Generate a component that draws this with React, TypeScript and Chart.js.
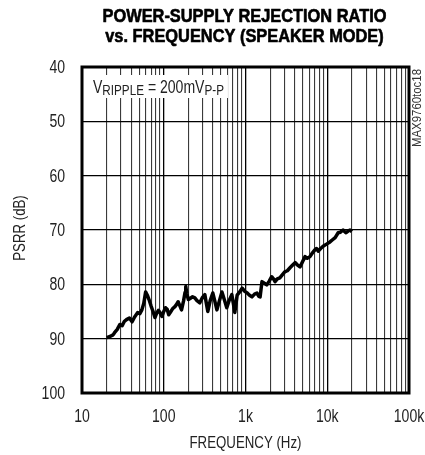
import React, { useEffect, useRef } from 'react';
import { Chart, registerables } from 'chart.js';

Chart.register(...registerables);

const frequencyHz = [
  20, 22, 24, 25, 27, 29, 31, 33, 35, 38, 41, 44, 48, 51, 54, 57, 60, 63, 66, 70,
  74, 78, 82, 86, 90, 95, 100, 105, 110, 115, 120, 128, 137, 145, 150, 158, 165, 175, 182, 186,
  192, 200, 210, 225, 240, 255, 276, 295, 318, 332, 346, 370, 398, 420, 447, 480, 515, 550, 590, 630,
  680, 710, 740, 790, 850, 910, 980, 1050, 1120, 1200, 1290, 1380, 1450, 1510, 1590, 1700, 1820, 1950, 2090, 2200,
  2300, 2450, 2630, 2800, 3020, 3250, 3480, 3750, 4040, 4300, 4640, 5000, 5350, 5700, 6150, 6600, 7090, 7400, 7750, 8300,
  8900, 9800, 10800, 11600, 12500, 13600, 14500, 15600, 16300, 17000, 18000, 19000, 20000,
];

const psrrDb = [
  89.8, 89.6, 89.3, 88.9, 88.3, 87.4, 87.6, 86.8, 86.5, 86.2, 86.9, 86.0, 85.2, 85.4, 84.7, 83.5, 81.4, 82.0, 82.8, 84.0,
  85.0, 86.1, 85.3, 84.8, 85.2, 85.9, 85.0, 84.3, 84.6, 85.6, 85.2, 84.5, 84.1, 83.6, 83.2, 84.0, 84.7, 83.0, 81.5, 80.4,
  81.8, 82.8, 82.6, 82.3, 82.5, 83.0, 83.4, 82.5, 81.9, 83.5, 85.0, 83.0, 81.6, 83.0, 84.7, 83.0, 81.4, 82.8, 84.3, 83.0,
  81.9, 83.5, 85.2, 82.0, 81.4, 80.7, 81.3, 81.6, 82.0, 82.3, 81.8, 81.6, 82.2, 82.3, 79.5, 79.8, 80.1, 79.4, 78.6, 79.0,
  79.5, 79.0, 78.8, 78.3, 77.7, 77.5, 77.0, 76.5, 76.0, 76.4, 76.8, 75.8, 74.9, 75.2, 74.9, 74.2, 73.6, 73.4, 73.9, 73.4,
  73.0, 72.6, 72.2, 71.8, 71.4, 70.5, 70.4, 70.0, 70.3, 70.5, 70.2, 70.0, 70.3,
];

const xGridTicks = [
  10, 20, 30, 40, 50, 60, 70, 80, 90,
  100, 200, 300, 400, 500, 600, 700, 800, 900,
  1000, 2000, 3000, 4000, 5000, 6000, 7000, 8000, 9000,
  10000, 20000, 30000, 40000, 50000, 60000, 70000, 80000, 90000,
  100000,
];
const xTickValues = [10, 100, 1000, 10000, 100000];
const xTickLabels = ['10', '100', '1k', '10k', '100k'];
const yTickValues = [40, 50, 60, 70, 80, 90, 100];
const yTickLabels = ['40', '50', '60', '70', '80', '90', '100'];

const titleLines = ['POWER-SUPPLY REJECTION RATIO', 'vs. FREQUENCY (SPEAKER MODE)'];
const xAxisTitle = 'FREQUENCY (Hz)';
const yAxisTitle = 'PSRR (dB)';
const sideNote = 'MAX9760toc18';
const annotationParts = [
  { text: 'V', sub: false },
  { text: 'RIPPLE', sub: true },
  { text: ' = 200mV', sub: false },
  { text: 'P-P', sub: true },
];

const SANS = '"Liberation Sans", Arial, "DejaVu Sans", sans-serif';
const NARROW_X = 0.78;
const TEXT = '#222';

function narrowText(
  ctx: CanvasRenderingContext2D,
  text: string,
  x: number,
  y: number,
  font: string,
  align: CanvasTextAlign,
  baseline: CanvasTextBaseline,
  sx: number,
  rotate = 0,
  strokeWidth = 0
) {
  ctx.save();
  ctx.font = font;
  ctx.textAlign = align;
  ctx.textBaseline = baseline;
  ctx.translate(x, y);
  if (rotate) ctx.rotate(rotate);
  ctx.scale(sx, 1);
  ctx.fillText(text, 0, 0);
  if (strokeWidth > 0) {
    ctx.strokeStyle = ctx.fillStyle as string;
    ctx.lineWidth = strokeWidth;
    ctx.lineJoin = 'round';
    ctx.strokeText(text, 0, 0);
  }
  ctx.restore();
}

const overlayPlugin = {
  id: 'overlay',
  afterDraw(chart: any) {
    const { ctx, chartArea } = chart;
    const { left, right, top, bottom } = chartArea;
    const xs = chart.scales.x;
    const ys = chart.scales.y;
    ctx.save();
    // frame
    ctx.strokeStyle = '#000';
    ctx.lineWidth = 3;
    ctx.strokeRect(left, top, right - left, bottom - top);

    const cx = (left + right) / 2;

    // title
    ctx.fillStyle = '#000';
    narrowText(ctx, titleLines[0], cx - 1, 22, `bold 18px ${SANS}`, 'center', 'alphabetic', 0.91, 0, 0.6);
    narrowText(ctx, titleLines[1], cx - 1, 42, `bold 18px ${SANS}`, 'center', 'alphabetic', 0.91, 0, 0.6);

    ctx.fillStyle = TEXT;
    // x tick labels
    xTickValues.forEach((v, i) => {
      narrowText(ctx, xTickLabels[i], xs.getPixelForValue(v), 417, `18px ${SANS}`, 'center', 'middle', NARROW_X);
    });
    // y tick labels
    yTickValues.forEach((v, i) => {
      narrowText(ctx, yTickLabels[i], 65, ys.getPixelForValue(v) + 1, `18px ${SANS}`, 'right', 'middle', NARROW_X);
    });

    // axis titles
    narrowText(ctx, xAxisTitle, cx, 443, `17px ${SANS}`, 'center', 'middle', NARROW_X);
    narrowText(ctx, yAxisTitle, 20, (top + bottom) / 2 - 2, `17px ${SANS}`, 'center', 'middle', NARROW_X, -Math.PI / 2);

    // side note
    ctx.fillStyle = '#333';
    narrowText(ctx, sideNote, 418, 108, `12px ${SANS}`, 'center', 'middle', 0.95, -Math.PI / 2);

    // annotation
    const x0 = 93;
    const base = 93;
    let w = 0;
    for (const p of annotationParts) {
      ctx.font = p.sub ? `15px ${SANS}` : `18px ${SANS}`;
      w += ctx.measureText(p.text).width * NARROW_X;
    }
    ctx.fillStyle = '#fff';
    ctx.fillRect(x0 - 4, 75, w + 8, 23);
    ctx.fillStyle = TEXT;
    let x = x0;
    for (const p of annotationParts) {
      const font = p.sub ? `15px ${SANS}` : `18px ${SANS}`;
      narrowText(ctx, p.text, x, p.sub ? base + 2 : base, font, 'left', 'alphabetic', NARROW_X);
      ctx.font = font;
      x += ctx.measureText(p.text).width * NARROW_X;
    }
    ctx.restore();
  },
};

export default function App() {
  const canvasRef = useRef<HTMLCanvasElement | null>(null);

  useEffect(() => {
    document.body.style.margin = '0';
    const canvas = canvasRef.current;
    if (!canvas) return;
    const chart = new Chart(canvas, {
      type: 'line',
      data: {
        datasets: [
          {
            data: frequencyHz.map((f, i) => ({ x: f, y: psrrDb[i] })),
            borderColor: '#000',
            borderWidth: 3.5,
            borderJoinStyle: 'round',
            pointRadius: 0,
            tension: 0,
            fill: false,
          },
        ],
      },
      options: {
        animation: false,
        responsive: false,
        maintainAspectRatio: false,
        layout: { padding: { left: 0, right: 16, top: 67, bottom: 0 } },
        plugins: {
          legend: { display: false },
          title: { display: false },
          tooltip: { enabled: false },
        },
        scales: {
          x: {
            type: 'logarithmic',
            min: 10,
            max: 100000,
            afterBuildTicks: (scale: any) => {
              scale.ticks = xGridTicks.map((v) => ({ value: v }));
            },
            afterFit: (scale: any) => {
              scale.height = 62;
            },
            ticks: { display: false, autoSkip: false },
            grid: {
              drawTicks: false,
              color: (c: any) =>
                xTickValues.includes(c.tick?.value) ? '#000' : '#3a3a3a',
              lineWidth: (c: any) => (xTickValues.includes(c.tick?.value) ? 1.3 : 1.1),
            },
            border: { display: false },
          },
          y: {
            type: 'linear',
            reverse: true,
            min: 40,
            max: 100,
            afterBuildTicks: (scale: any) => {
              scale.ticks = yTickValues.map((v) => ({ value: v }));
            },
            afterFit: (scale: any) => {
              scale.width = 82;
            },
            ticks: { display: false },
            grid: {
              drawTicks: false,
              color: '#000',
              lineWidth: 1.2,
            },
            border: { display: false },
          },
        },
      },
      plugins: [overlayPlugin],
    });
    return () => chart.destroy();
  }, []);

  return (
    <div style={{ width: 425, height: 455 }}>
      <canvas ref={canvasRef} width={425} height={455} style={{ display: 'block' }} />
    </div>
  );
}
